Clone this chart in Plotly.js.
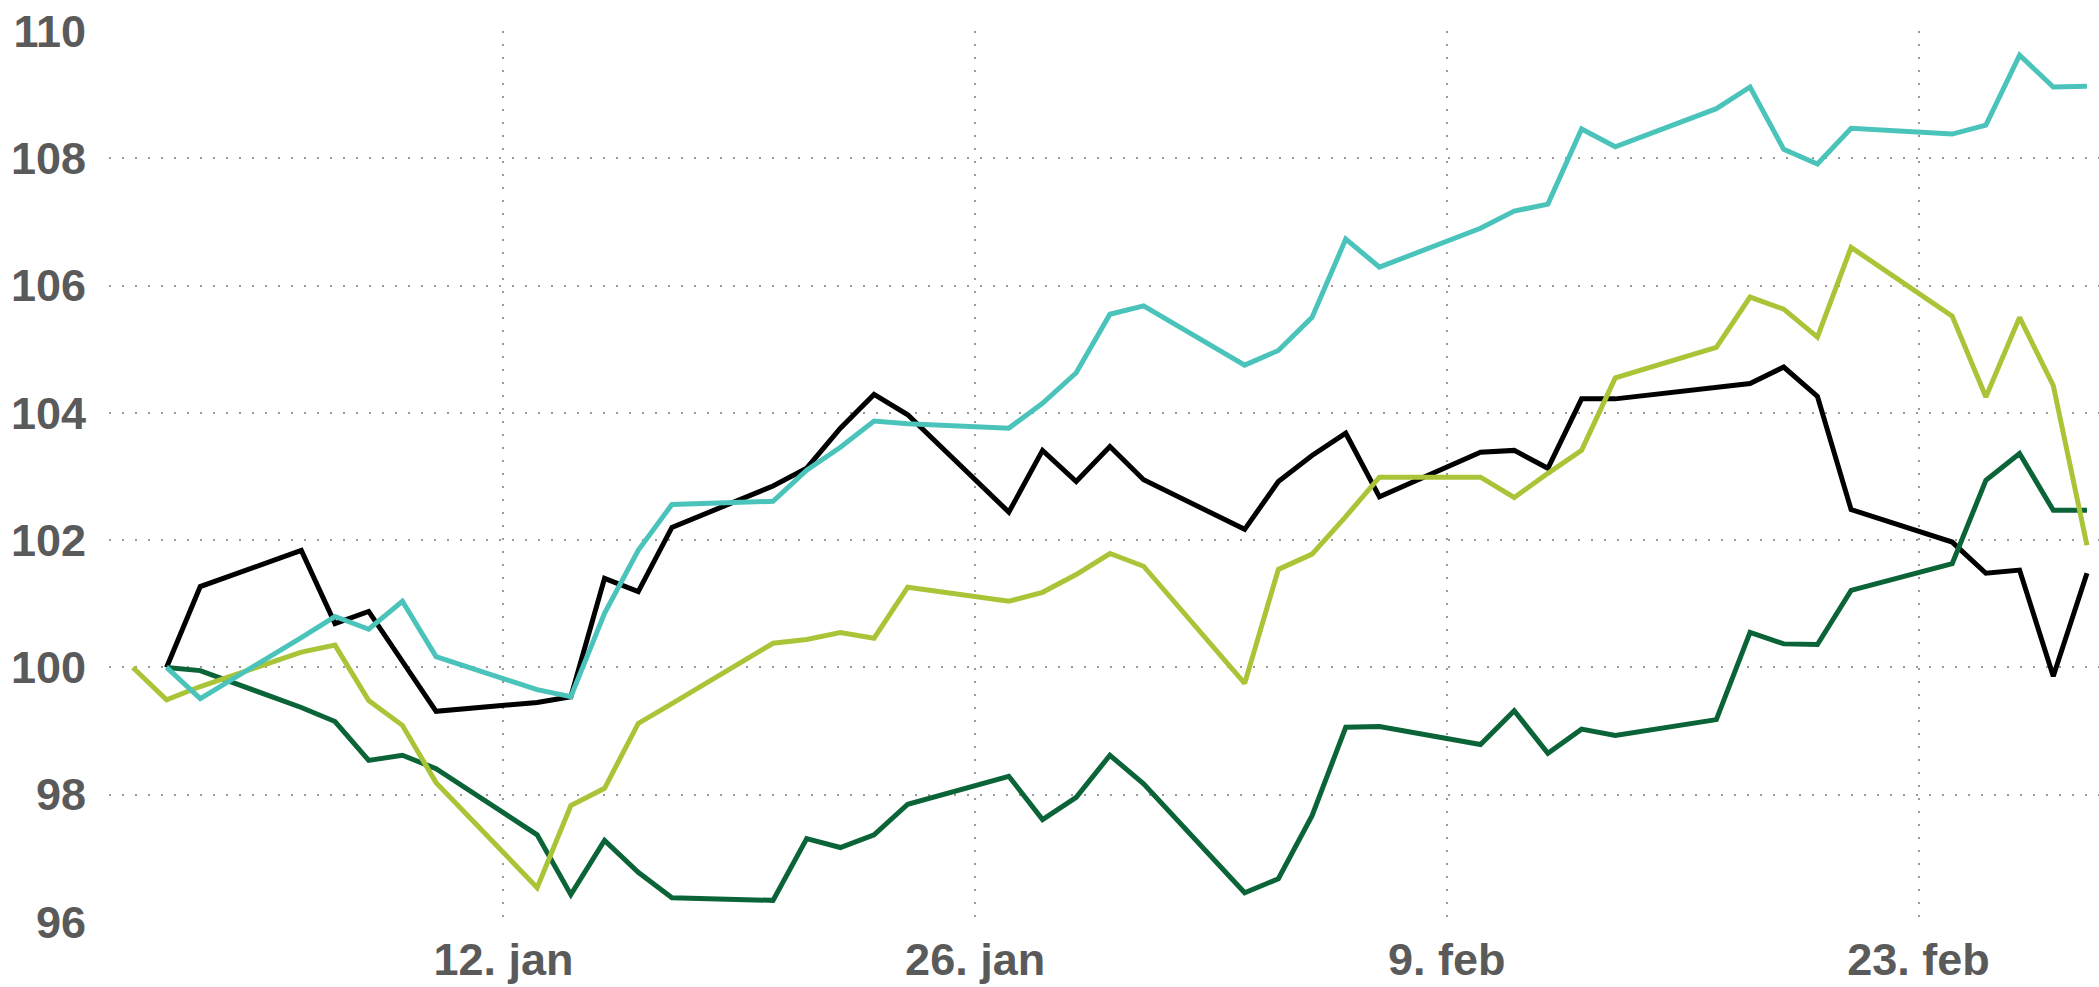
<!DOCTYPE html>
<html>
<head>
<meta charset="utf-8">
<script src="https://cdn.plot.ly/plotly-3.0.1.min.js"></script>
<style>
  html, body { margin: 0; padding: 0; background: #ffffff; }
  #chart { width: 2099px; height: 987px; }
</style>
</head>
<body>
<div id="chart"></div>
<script>
const dates = ['2014-01-01','2014-01-02','2014-01-03','2014-01-06','2014-01-07','2014-01-08','2014-01-09','2014-01-10',
  '2014-01-13','2014-01-14','2014-01-15','2014-01-16','2014-01-17','2014-01-20','2014-01-21','2014-01-22','2014-01-23','2014-01-24',
  '2014-01-27','2014-01-28','2014-01-29','2014-01-30','2014-01-31','2014-02-03','2014-02-04','2014-02-05','2014-02-06','2014-02-07',
  '2014-02-10','2014-02-11','2014-02-12','2014-02-13','2014-02-14','2014-02-17','2014-02-18','2014-02-19','2014-02-20','2014-02-21',
  '2014-02-24','2014-02-25','2014-02-26','2014-02-27','2014-02-28'];

const blackSeries = [null,100,101.27,101.84,100.69,100.88,100.1,99.31,99.45,99.54,101.40,101.19,102.2,102.85,103.13,103.76,104.29,103.97,
  102.44,103.41,102.92,103.47,102.95,102.17,102.92,103.33,103.68,102.68,103.38,103.41,103.13,104.22,104.22,104.4,104.46,104.72,104.26,
  102.48,101.97,101.48,101.53,99.86,101.48];

const darkGreenSeries = [null,100,99.95,99.37,99.15,98.54,98.62,98.41,97.37,96.43,97.28,96.78,96.38,96.34,97.31,97.17,97.37,97.85,
  98.29,97.61,97.96,98.62,98.17,96.46,96.68,97.67,99.06,99.07,98.79,99.32,98.65,99.03,98.93,99.18,100.55,100.37,100.36,101.21,
  101.63,102.94,103.36,102.47,102.47];

const limeSeries = [100,99.49,99.7,100.24,100.35,99.48,99.09,98.19,96.54,97.83,98.1,99.12,99.43,100.38,100.44,100.55,100.46,101.26,
  101.04,101.18,101.46,101.79,101.59,99.75,101.54,101.78,102.37,102.99,102.99,102.67,103.05,103.41,104.55,105.03,105.82,105.63,105.19,
  106.6,105.52,104.25,105.5,104.43,101.92];

const cyanSeries = [null,100,99.51,100.47,100.8,100.6,101.04,100.17,99.65,99.54,100.85,101.84,102.56,102.61,103.1,103.46,103.87,103.83,
  103.76,104.15,104.63,105.55,105.68,104.75,104.98,105.5,106.73,106.29,106.9,107.17,107.28,108.46,108.18,108.78,109.12,108.14,107.91,
  108.47,108.38,108.52,109.62,109.12,109.13];

const xTickVals = ['2014-01-12','2014-01-26','2014-02-09','2014-02-23'];
const xTickText = ['12. jan','26. jan','9. feb','23. feb'];
const yTickVals = [96,98,100,102,104,106,108,110];

function line(y, color) {
  return {
    type: 'scatter', mode: 'lines', x: dates, y: y,
    connectgaps: true,
    line: { color: color, width: 5, shape: 'linear' },
    hoverinfo: 'skip', showlegend: false
  };
}

const data = [
  line(blackSeries, '#000000'),
  line(darkGreenSeries, '#0a6437'),
  line(limeSeries, '#a9c537'),
  line(cyanSeries, '#4ac4bb')
];

const tickFont = { family: '"Liberation Sans", Arial, sans-serif', size: 45, color: '#5a5a5a', weight: 'bold' };

const layout = {
  width: 2099, height: 987,
  margin: { l: 109, r: 0, t: 31, b: 65, pad: 0 },
  paper_bgcolor: '#ffffff', plot_bgcolor: '#ffffff',
  showlegend: false,
  xaxis: {
    type: 'date',
    range: ['2013-12-31 07:00', '2014-02-28 08:35'],
    tickmode: 'array', tickvals: xTickVals, ticktext: xTickText,
    showgrid: true, gridcolor: '#9a9a9a', gridwidth: 2, griddash: '2px,11px',
    zeroline: false, showline: false, ticks: '',
    tickfont: tickFont, ticklabelstandoff: 7
  },
  yaxis: {
    range: [96, 110],
    tickmode: 'array', tickvals: yTickVals,
    showgrid: true, gridcolor: '#9a9a9a', gridwidth: 2, griddash: '2px,11px',
    zeroline: false, showline: false, ticks: '',
    tickfont: tickFont, ticklabelstandoff: 22
  }
};

Plotly.newPlot('chart', data, layout, { displayModeBar: false, staticPlot: true });
</script>
</body>
</html>
